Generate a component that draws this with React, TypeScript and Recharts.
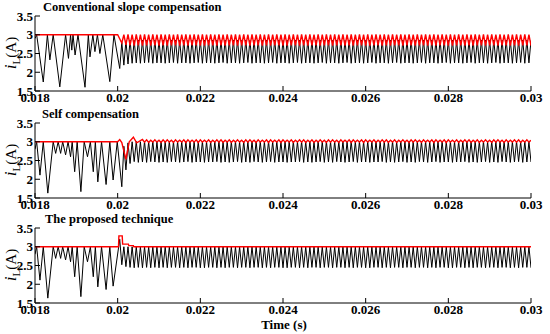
import { LineChart, Line, XAxis, YAxis } from 'recharts';

const xTicks = [0.018, 0.02, 0.022, 0.024, 0.026, 0.028, 0.03];
const xTickLabels = ['0.018', '0.02', '0.022', '0.024', '0.026', '0.028', '0.03'];
const yTicks = [1.5, 2, 2.5, 3, 3.5];
const yTickLabels = ['1.5', '2', '2.5', '3', '3.5'];
const panelTitles = ['Conventional slope compensation', 'Self compensation', 'The proposed technique'];

// switching half period of the steady-state samples (s)
const halfPeriod = 0.00005;

// --- conventional slope compensation ---
const convPreTimes = [0.018, 0.01804, 0.0182, 0.0183, 0.01836, 0.01844, 0.0186, 0.01874, 0.01881, 0.01886, 0.01889, 0.01892, 0.01897, 0.01904, 0.01921, 0.01929, 0.01933, 0.0194, 0.01945, 0.01951, 0.01957, 0.01964, 0.01981, 0.01991];
const convPreBlack = [2.9, 3.0, 1.74, 3.0, 2.33, 3.0, 1.61, 3.0, 2.37, 3.0, 2.59, 3.0, 2.46, 3.0, 1.6, 3.0, 2.41, 3.0, 2.55, 3.0, 2.5, 3.0, 1.75, 3.0];
const convPostStart = 0.02005;
const convPostBlack = [
  2.10, 2.80, 2.19, 2.84, 2.22, 2.86, 2.24, 2.85, 2.25, 2.86, 2.24, 2.86, 2.25, 2.85, 2.26, 2.86, 2.24, 2.86, 2.25, 2.85,
  2.25, 2.86, 2.24, 2.85, 2.25, 2.86, 2.26, 2.86, 2.24, 2.85, 2.25, 2.86, 2.25, 2.85, 2.24, 2.86, 2.25, 2.86, 2.26, 2.85,
  2.24, 2.86, 2.25, 2.85, 2.25, 2.86, 2.24, 2.86, 2.25, 2.85, 2.26, 2.86, 2.24, 2.85, 2.25, 2.86, 2.25, 2.86, 2.24, 2.85,
  2.25, 2.86, 2.26, 2.85, 2.24, 2.86, 2.25, 2.86, 2.25, 2.85, 2.24, 2.86, 2.25, 2.85, 2.26, 2.86, 2.24, 2.86, 2.25, 2.85,
  2.25, 2.86, 2.24, 2.85, 2.25, 2.86, 2.26, 2.86, 2.24, 2.85, 2.25, 2.86, 2.25, 2.85, 2.24, 2.86, 2.25, 2.86, 2.26, 2.85,
  2.24, 2.86, 2.25, 2.85, 2.25, 2.86, 2.24, 2.86, 2.25, 2.85, 2.26, 2.86, 2.24, 2.85, 2.25, 2.86, 2.25, 2.86, 2.24, 2.85,
  2.25, 2.86, 2.26, 2.85, 2.24, 2.86, 2.25, 2.86, 2.25, 2.85, 2.24, 2.86, 2.25, 2.85, 2.26, 2.86, 2.24, 2.86, 2.25, 2.85,
  2.25, 2.86, 2.24, 2.85, 2.25, 2.86, 2.26, 2.86, 2.24, 2.85, 2.25, 2.86, 2.25, 2.85, 2.24, 2.86, 2.25, 2.86, 2.26, 2.85,
  2.24, 2.86, 2.25, 2.85, 2.25, 2.86, 2.24, 2.86, 2.25, 2.85, 2.26, 2.86, 2.24, 2.85, 2.25, 2.86, 2.25, 2.86, 2.24, 2.85,
  2.25, 2.86, 2.26, 2.85, 2.24, 2.86, 2.25, 2.86, 2.25, 2.85, 2.24, 2.86, 2.25, 2.85, 2.26, 2.86, 2.24, 2.86, 2.25, 2.85,
];
const convPreTimesRed = [0.018, 0.02];
const convPreRed = [3.0, 3.0];
const convPostStartRed = 0.0201;
const convPostRed = [
  2.78, 3.00, 2.73, 3.01, 2.72, 3.00, 2.71, 3.01, 2.72, 3.00, 2.71, 3.01, 2.72, 3.00, 2.71, 3.01, 2.72, 3.00, 2.71, 3.01,
  2.72, 3.00, 2.71, 3.01, 2.72, 3.00, 2.72, 3.01, 2.71, 3.00, 2.72, 3.01, 2.71, 3.00, 2.72, 3.01, 2.72, 3.00, 2.71, 3.01,
  2.71, 3.00, 2.72, 3.01, 2.72, 3.00, 2.71, 3.01, 2.72, 3.00, 2.71, 3.01, 2.72, 3.00, 2.72, 3.01, 2.71, 3.00, 2.72, 3.01,
  2.72, 3.00, 2.71, 3.01, 2.72, 3.00, 2.72, 3.01, 2.71, 3.00, 2.72, 3.01, 2.71, 3.00, 2.72, 3.01, 2.72, 3.00, 2.71, 3.01,
  2.71, 3.00, 2.72, 3.01, 2.72, 3.00, 2.71, 3.01, 2.72, 3.00, 2.71, 3.01, 2.72, 3.00, 2.72, 3.01, 2.71, 3.00, 2.72, 3.01,
  2.72, 3.00, 2.71, 3.01, 2.72, 3.00, 2.72, 3.01, 2.71, 3.00, 2.72, 3.01, 2.71, 3.00, 2.72, 3.01, 2.72, 3.00, 2.71, 3.01,
  2.71, 3.00, 2.72, 3.01, 2.72, 3.00, 2.71, 3.01, 2.72, 3.00, 2.71, 3.01, 2.72, 3.00, 2.72, 3.01, 2.71, 3.00, 2.72, 3.01,
  2.72, 3.00, 2.71, 3.01, 2.72, 3.00, 2.72, 3.01, 2.71, 3.00, 2.72, 3.01, 2.71, 3.00, 2.72, 3.01, 2.72, 3.00, 2.71, 3.01,
  2.71, 3.00, 2.72, 3.01, 2.72, 3.00, 2.71, 3.01, 2.72, 3.00, 2.71, 3.01, 2.72, 3.00, 2.72, 3.01, 2.71, 3.00, 2.72, 3.01,
  2.72, 3.00, 2.71, 3.01, 2.72, 3.00, 2.72, 3.01, 2.71, 3.00, 2.72, 3.01, 2.71, 3.00, 2.72, 3.01, 2.72, 3.00, 2.71,
];

// --- self compensation ---
const selfPreTimes = [0.018, 0.01804, 0.01812, 0.0182, 0.01831, 0.01844, 0.0185, 0.01856, 0.01862, 0.01867, 0.01874, 0.0188, 0.01886, 0.0189, 0.01896, 0.01902, 0.01911, 0.01919, 0.01927, 0.01934, 0.01941, 0.01946, 0.01952, 0.01961, 0.01972, 0.01981, 0.01989, 0.01999];
const selfPreBlack = [2.8, 3.0, 2.11, 3.0, 1.63, 3.0, 2.69, 3.0, 2.69, 3.0, 2.65, 3.0, 2.6, 3.0, 2.2, 3.0, 1.67, 3.0, 2.6, 3.0, 2.2, 3.0, 1.93, 3.0, 1.86, 3.0, 1.98, 3.0];
const selfPostStart = 0.0201;
const selfPostBlack = [
  1.80, 2.88, 2.25, 2.97, 2.42, 3.00, 2.47, 3.01, 2.45, 3.00, 2.46, 3.01, 2.45, 3.00, 2.47, 3.01, 2.46, 3.00, 2.45, 3.01,
  2.46, 3.00, 2.45, 3.01, 2.47, 3.00, 2.46, 3.01, 2.45, 3.00, 2.46, 3.01, 2.47, 3.00, 2.45, 3.01, 2.46, 3.00, 2.46, 3.01,
  2.45, 3.00, 2.46, 3.01, 2.46, 3.00, 2.47, 3.01, 2.45, 3.00, 2.46, 3.01, 2.45, 3.00, 2.46, 3.01, 2.47, 3.00, 2.45, 3.01,
  2.46, 3.00, 2.45, 3.01, 2.47, 3.00, 2.46, 3.01, 2.45, 3.00, 2.46, 3.01, 2.47, 3.00, 2.45, 3.01, 2.46, 3.00, 2.46, 3.01,
  2.45, 3.00, 2.46, 3.01, 2.46, 3.00, 2.47, 3.01, 2.45, 3.00, 2.46, 3.01, 2.45, 3.00, 2.46, 3.01, 2.47, 3.00, 2.45, 3.01,
  2.46, 3.00, 2.45, 3.01, 2.47, 3.00, 2.46, 3.01, 2.45, 3.00, 2.46, 3.01, 2.47, 3.00, 2.45, 3.01, 2.46, 3.00, 2.46, 3.01,
  2.45, 3.00, 2.46, 3.01, 2.46, 3.00, 2.47, 3.01, 2.45, 3.00, 2.46, 3.01, 2.45, 3.00, 2.46, 3.01, 2.47, 3.00, 2.45, 3.01,
  2.46, 3.00, 2.45, 3.01, 2.47, 3.00, 2.46, 3.01, 2.45, 3.00, 2.46, 3.01, 2.47, 3.00, 2.45, 3.01, 2.46, 3.00, 2.46, 3.01,
  2.45, 3.00, 2.46, 3.01, 2.46, 3.00, 2.47, 3.01, 2.45, 3.00, 2.46, 3.01, 2.45, 3.00, 2.46, 3.01, 2.47, 3.00, 2.45, 3.01,
  2.46, 3.00, 2.45, 3.01, 2.47, 3.00, 2.46, 3.01, 2.45, 3.00, 2.46, 3.01, 2.47, 3.00, 2.45, 3.01, 2.46, 3.00, 2.46,
];
const selfPreTimesRed = [0.018, 0.02, 0.02005, 0.0201, 0.0202, 0.02028, 0.02038, 0.02046, 0.0206];
const selfPreRed = [3.0, 3.0, 3.06, 2.98, 2.53, 3.0, 3.12, 2.97, 3.06];
const selfPostStartRed = 0.02065;
const selfPostRed = [
  2.99, 3.05, 2.98, 3.04, 2.99, 3.05, 2.99, 3.04, 2.98, 3.05, 2.99, 3.05, 2.99, 3.04, 2.98, 3.05, 2.99, 3.04, 2.99, 3.05,
  2.98, 3.05, 2.99, 3.04, 2.99, 3.05, 2.98, 3.05, 2.99, 3.04, 2.99, 3.05, 2.98, 3.04, 2.99, 3.05, 2.99, 3.05, 2.98, 3.04,
  2.99, 3.05, 2.98, 3.04, 2.99, 3.05, 2.99, 3.04, 2.98, 3.05, 2.99, 3.05, 2.99, 3.04, 2.98, 3.05, 2.99, 3.04, 2.99, 3.05,
  2.98, 3.05, 2.99, 3.04, 2.99, 3.05, 2.98, 3.05, 2.99, 3.04, 2.99, 3.05, 2.98, 3.04, 2.99, 3.05, 2.99, 3.05, 2.98, 3.04,
  2.99, 3.05, 2.98, 3.04, 2.99, 3.05, 2.99, 3.04, 2.98, 3.05, 2.99, 3.05, 2.99, 3.04, 2.98, 3.05, 2.99, 3.04, 2.99, 3.05,
  2.98, 3.05, 2.99, 3.04, 2.99, 3.05, 2.98, 3.05, 2.99, 3.04, 2.99, 3.05, 2.98, 3.04, 2.99, 3.05, 2.99, 3.05, 2.98, 3.04,
  2.99, 3.05, 2.98, 3.04, 2.99, 3.05, 2.99, 3.04, 2.98, 3.05, 2.99, 3.05, 2.99, 3.04, 2.98, 3.05, 2.99, 3.04, 2.99, 3.05,
  2.98, 3.05, 2.99, 3.04, 2.99, 3.05, 2.98, 3.05, 2.99, 3.04, 2.99, 3.05, 2.98, 3.04, 2.99, 3.05, 2.99, 3.05, 2.98, 3.04,
  2.99, 3.05, 2.98, 3.04, 2.99, 3.05, 2.99, 3.04, 2.98, 3.05, 2.99, 3.05, 2.99, 3.04, 2.98, 3.05, 2.99, 3.04, 2.99, 3.05,
  2.99, 3.05, 2.98, 3.04, 2.99, 3.05, 2.99, 3.04,
];

// --- proposed technique ---
const propPreTimes = [0.018, 0.01804, 0.01812, 0.0182, 0.01831, 0.01844, 0.0185, 0.01856, 0.01862, 0.01867, 0.01874, 0.0188, 0.01886, 0.0189, 0.01896, 0.01902, 0.01911, 0.01919, 0.01927, 0.01934, 0.01941, 0.01946, 0.01952, 0.01961, 0.01972, 0.01981, 0.01989, 0.02005];
const propPreBlack = [2.8, 3.0, 2.11, 3.0, 1.63, 3.0, 2.69, 3.0, 2.69, 3.0, 2.65, 3.0, 2.6, 3.0, 2.2, 3.0, 1.67, 3.0, 2.6, 3.0, 2.2, 3.0, 1.93, 3.0, 1.86, 3.0, 1.95, 3.2];
const propPostStart = 0.0201;
const propPostBlack = [
  2.52, 3.00, 2.47, 3.00, 2.45, 3.00, 2.44, 3.00, 2.45, 3.00, 2.44, 3.00, 2.45, 3.00, 2.44, 3.00, 2.45, 3.00, 2.44, 3.00,
  2.45, 3.00, 2.44, 3.00, 2.45, 3.00, 2.45, 3.00, 2.44, 3.00, 2.45, 3.00, 2.44, 3.00, 2.45, 3.00, 2.45, 3.00, 2.44, 3.00,
  2.44, 3.00, 2.45, 3.00, 2.45, 3.00, 2.44, 3.00, 2.45, 3.00, 2.44, 3.00, 2.45, 3.00, 2.45, 3.00, 2.44, 3.00, 2.45, 3.00,
  2.45, 3.00, 2.44, 3.00, 2.45, 3.00, 2.45, 3.00, 2.44, 3.00, 2.45, 3.00, 2.44, 3.00, 2.45, 3.00, 2.45, 3.00, 2.44, 3.00,
  2.44, 3.00, 2.45, 3.00, 2.45, 3.00, 2.44, 3.00, 2.45, 3.00, 2.44, 3.00, 2.45, 3.00, 2.45, 3.00, 2.44, 3.00, 2.45, 3.00,
  2.45, 3.00, 2.44, 3.00, 2.45, 3.00, 2.45, 3.00, 2.44, 3.00, 2.45, 3.00, 2.44, 3.00, 2.45, 3.00, 2.45, 3.00, 2.44, 3.00,
  2.44, 3.00, 2.45, 3.00, 2.45, 3.00, 2.44, 3.00, 2.45, 3.00, 2.44, 3.00, 2.45, 3.00, 2.45, 3.00, 2.44, 3.00, 2.45, 3.00,
  2.45, 3.00, 2.44, 3.00, 2.45, 3.00, 2.45, 3.00, 2.44, 3.00, 2.45, 3.00, 2.44, 3.00, 2.45, 3.00, 2.45, 3.00, 2.44, 3.00,
  2.44, 3.00, 2.45, 3.00, 2.45, 3.00, 2.44, 3.00, 2.45, 3.00, 2.44, 3.00, 2.45, 3.00, 2.45, 3.00, 2.44, 3.00, 2.45, 3.00,
  2.45, 3.00, 2.44, 3.00, 2.45, 3.00, 2.45, 3.00, 2.44, 3.00, 2.45, 3.00, 2.44, 3.00, 2.45, 3.00, 2.45, 3.00, 2.44,
];
const propRedTimes = [0.018, 0.02002, 0.02003, 0.02011, 0.02012, 0.02026, 0.02027, 0.02038, 0.02039, 0.03];
const propRed = [3.0, 3.0, 3.29, 3.29, 3.07, 3.07, 3.03, 3.03, 3.0, 3.0];

type Pt = { t: number; v: number };

const toPoints = (preT: number[], preV: number[], postStart?: number, postV: number[] = []): Pt[] => {
  const pts = preT.map((t, i) => ({ t, v: preV[i] }));
  postV.forEach((v, i) => pts.push({ t: (postStart as number) + i * halfPeriod, v }));
  return pts;
};

const panels = [
  {
    black: toPoints(convPreTimes, convPreBlack, convPostStart, convPostBlack),
    red: toPoints(convPreTimesRed, convPreRed, convPostStartRed, convPostRed),
  },
  {
    black: toPoints(selfPreTimes, selfPreBlack, selfPostStart, selfPostBlack),
    red: toPoints(selfPreTimesRed, selfPreRed, selfPostStartRed, selfPostRed),
  },
  {
    black: toPoints(propPreTimes, propPreBlack, propPostStart, propPostBlack),
    red: toPoints(propRedTimes, propRed),
  },
];

const FONT = '"Liberation Serif", "Times New Roman", serif';
const tickStyle = { fill: '#000', fontFamily: FONT, fontWeight: 'bold', fontSize: 13 };
const axisStroke = { stroke: '#000', strokeWidth: 1 };

const Panel = ({ black, red }: { black: Pt[]; red: Pt[] }) => (
  <LineChart width={550} height={110} margin={{ top: 16, right: 19, left: 0, bottom: 0 }}>
    <XAxis
      dataKey="t"
      type="number"
      domain={[0.018, 0.03]}
      ticks={xTicks}
      interval={0}
      allowDataOverflow
      height={19}
      tickSize={-5}
      tickMargin={7}
      tick={tickStyle}
      axisLine={axisStroke}
      tickLine={axisStroke}
      tickFormatter={(v: number) => xTickLabels[xTicks.indexOf(v)]}
    />
    <XAxis
      xAxisId="top"
      orientation="top"
      dataKey="t"
      type="number"
      domain={[0.018, 0.03]}
      ticks={xTicks}
      interval={0}
      allowDataOverflow
      height={0}
      tickSize={-5}
      tick={false}
      axisLine={axisStroke}
      tickLine={axisStroke}
    />
    <YAxis
      type="number"
      domain={[1.5, 3.5]}
      ticks={yTicks}
      interval={0}
      allowDataOverflow
      width={35}
      tickSize={-5}
      tickMargin={7}
      tick={tickStyle}
      axisLine={axisStroke}
      tickLine={axisStroke}
      tickFormatter={(v: number) => yTickLabels[yTicks.indexOf(v)]}
    />
    <YAxis
      yAxisId="right"
      orientation="right"
      type="number"
      domain={[1.5, 3.5]}
      ticks={yTicks}
      interval={0}
      allowDataOverflow
      width={0}
      tickSize={-5}
      tick={false}
      axisLine={axisStroke}
      tickLine={axisStroke}
    />
    <Line data={black} dataKey="v" type="linear" stroke="#000" strokeWidth={1} dot={false} activeDot={false} isAnimationActive={false} />
    <Line data={red} dataKey="v" type="linear" stroke="#ff0000" strokeWidth={1.4} dot={false} activeDot={false} isAnimationActive={false} />
  </LineChart>
);

const panelTops = [0, 107, 212];
const titleX = [43, 42, 45];

export default function App() {
  return (
    <div style={{ position: 'absolute', left: 0, top: 0, width: 550, height: 334, background: '#fff' }}>
      {panels.map((p, i) => (
        <div key={i} style={{ position: 'absolute', left: 0, top: panelTops[i] }}>
          <Panel black={p.black} red={p.red} />
        </div>
      ))}
      <svg width={550} height={334} style={{ position: 'absolute', left: 0, top: 0, pointerEvents: 'none' }}>
        {panelTitles.map((title, i) => (
          <text key={title} x={titleX[i]} y={panelTops[i] + 11} fontFamily={FONT} fontWeight="bold" fontSize={12.5} fill="#000">
            {title}
          </text>
        ))}
        {panelTops.map((top) => (
          <text
            key={top}
            x={16}
            y={top + 53}
            transform={`rotate(-90, 16, ${top + 53})`}
            textAnchor="middle"
            fontFamily={FONT}
            fontSize={15}
            fill="#000"
          >
            <tspan fontStyle="italic" fontSize={17}>i</tspan>
            <tspan fontSize={11} dy={4}>L</tspan>
            <tspan dy={-4}>(A)</tspan>
          </text>
        ))}
        <text x={284} y={329} textAnchor="middle" fontFamily={FONT} fontWeight="bold" fontSize={13} fill="#000">
          Time (s)
        </text>
      </svg>
    </div>
  );
}
